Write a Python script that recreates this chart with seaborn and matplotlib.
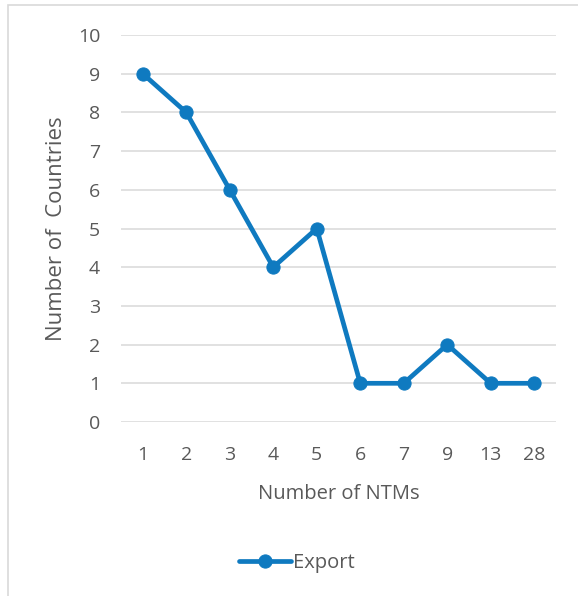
import matplotlib
matplotlib.use("Agg")
import matplotlib.pyplot as plt
from matplotlib.patches import Rectangle
import pandas as pd
import seaborn as sns

ntms = ["1", "2", "3", "4", "5", "6", "7", "9", "13", "28"]
countries = [9, 8, 6, 4, 5, 1, 1, 2, 1, 1]

sns.set_style("white")
plt.rcParams["font.family"] = ["Open Sans", "DejaVu Sans"]

GRAY_TXT = "#595959"
BLUE = "#0F7AC0"

df = pd.DataFrame({"ntm": ntms, "n": countries})

fig = plt.figure(figsize=(5.78, 5.96), dpi=100)
ax = fig.add_axes([121 / 578, 1 - 422 / 596, 435 / 578, 387 / 596])

sns.lineplot(data=df, x="ntm", y="n", sort=False, ax=ax, color=BLUE,
             linewidth=3.4, marker="o", markersize=9.5,
             markeredgecolor=BLUE, label="Export")

ax.set_xlim(-0.5, len(ntms) - 0.5)
ax.set_ylim(0, 10)
ax.set_yticks(range(0, 11))
ax.grid(axis="y", color="#D9D9D9", linewidth=1.1)
ax.set_axisbelow(True)
for s in ax.spines.values():
    s.set_visible(False)
ax.tick_params(axis="both", length=0, labelsize=14, colors=GRAY_TXT)
ax.tick_params(axis="x", pad=17)
ax.tick_params(axis="y", pad=15)

ax.set_xlabel("Number of NTMs", fontsize=14.5, color=GRAY_TXT, labelpad=15)
ax.set_ylabel("Number of  Countries", fontsize=16, color=GRAY_TXT, labelpad=8)

leg = ax.legend(loc="center", bbox_to_anchor=(297 / 578, 1 - 563 / 596),
                bbox_transform=fig.transFigure, frameon=False,
                fontsize=14.5, handlelength=2.6, handletextpad=0.1)
for t in leg.get_texts():
    t.set_color(GRAY_TXT)

# chart border (partially cropped in the original)
fig.patches.append(Rectangle((8 / 578, -0.1), 1.2, 1.1 - 5 / 596,
                             transform=fig.transFigure, fill=False,
                             edgecolor="#D9D9D9", linewidth=1.2))

fig.savefig("out.png", dpi=100)
